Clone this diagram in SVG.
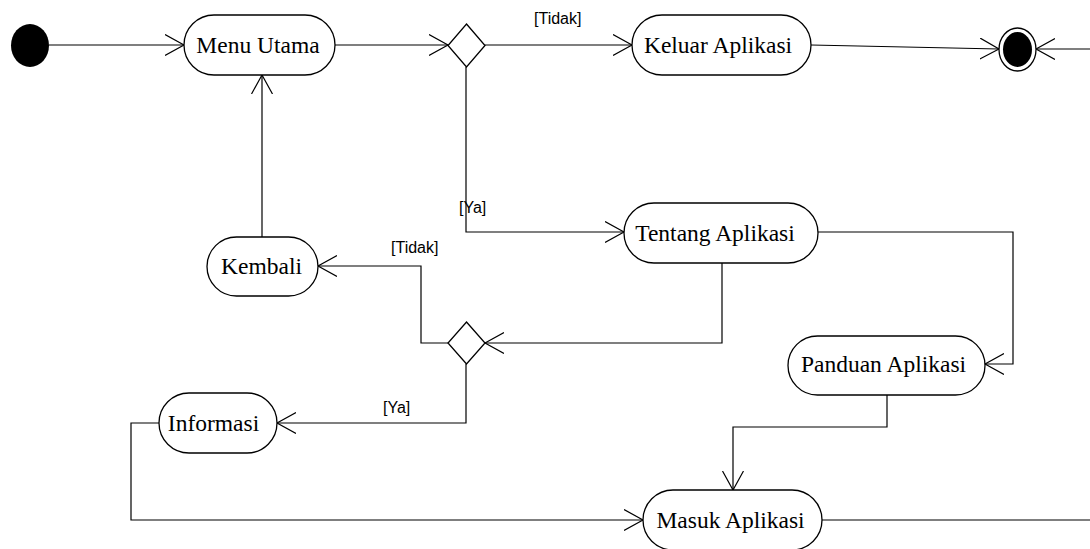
<svg xmlns="http://www.w3.org/2000/svg" width="1090" height="549" viewBox="0 0 1090 549">
<defs>
<style>
.node{fill:#fff;stroke:#000;stroke-width:1.3}
.lbl{font-family:"Liberation Serif","Times New Roman",serif;font-size:23.5px;fill:#000;text-anchor:middle}
.grd{font-family:"Liberation Sans",Arial,sans-serif;font-size:16px;fill:#000}
.edge{fill:none;stroke:#000;stroke-width:1.2}
</style>
<marker id="arr" markerUnits="userSpaceOnUse" markerWidth="22" markerHeight="24" refX="19" refY="11" orient="auto">
<path d="M0,0.5 L19,11 L0,21.5" fill="none" stroke="#000" stroke-width="1.2"/>
</marker>
</defs>
<rect width="1090" height="549" fill="#fff"/>
<g id="connectors">
<line class="edge" x1="49" y1="45" x2="184" y2="45" marker-end="url(#arr)"/>
<line class="edge" x1="335" y1="45" x2="448" y2="45" marker-end="url(#arr)"/>
<line class="edge" x1="485" y1="45" x2="632" y2="45" marker-end="url(#arr)"/>
<line class="edge" x1="811" y1="45" x2="999" y2="49" marker-end="url(#arr)"/>
<line class="edge" x1="1090" y1="49" x2="1036" y2="49" marker-end="url(#arr)"/>
<polyline class="edge" points="466,67 466,232 624,232" marker-end="url(#arr)"/>
<polyline class="edge" points="818,232 1013,232 1013,364 985,364" marker-end="url(#arr)"/>
<polyline class="edge" points="722,263 722,343 485,343" marker-end="url(#arr)"/>
<polyline class="edge" points="448,343 421,343 421,266 318,266" marker-end="url(#arr)"/>
<line class="edge" x1="262" y1="237" x2="262" y2="75" marker-end="url(#arr)"/>
<polyline class="edge" points="466,364 466,423 277,423" marker-end="url(#arr)"/>
<polyline class="edge" points="159,423 131,423 131,520 643,520" marker-end="url(#arr)"/>
<polyline class="edge" points="887,395 887,427 733,427 733,490" marker-end="url(#arr)"/>
<line class="edge" x1="822" y1="520" x2="1090" y2="520"/>
<text class="grd" x="534" y="24">[Tidak]</text>
<text class="grd" x="459" y="213">[Ya]</text>
<text class="grd" x="391" y="253">[Tidak]</text>
<text class="grd" x="383" y="413">[Ya]</text>
</g>
<g id="start"><ellipse cx="30" cy="45.5" rx="19" ry="21.5" fill="#000"/></g>
<g id="menu-utama"><rect class="node" x="184" y="15" width="151" height="60" rx="30" ry="30"/><text class="lbl" x="258" y="53">Menu Utama</text></g>
<g id="decision1"><polygon class="node" points="466.5,24 485,45.5 466.5,67 448,45.5"/></g>
<g id="keluar-aplikasi"><rect class="node" x="632" y="15" width="179" height="60" rx="30" ry="30"/><text class="lbl" x="718" y="53">Keluar Aplikasi</text></g>
<g id="end"><ellipse cx="1017.5" cy="49.5" rx="18.5" ry="21.5" fill="#fff" stroke="#000" stroke-width="1.3"/><ellipse cx="1017.5" cy="49.5" rx="14.5" ry="17.5" fill="#000"/></g>
<g id="tentang-aplikasi"><rect class="node" x="624" y="203" width="194" height="60" rx="30" ry="30"/><text class="lbl" x="715" y="241">Tentang Aplikasi</text></g>
<g id="kembali"><rect class="node" x="207" y="237" width="111" height="59" rx="29.5" ry="29.5"/><text class="lbl" x="261.5" y="274">Kembali</text></g>
<g id="decision2"><polygon class="node" points="466.5,322 485,343 466.5,364 448,343"/></g>
<g id="panduan-aplikasi"><rect class="node" x="788" y="336" width="197" height="59" rx="29.5" ry="29.5"/><text class="lbl" x="883.5" y="372">Panduan Aplikasi</text></g>
<g id="informasi"><rect class="node" x="159" y="393" width="118" height="60" rx="30" ry="30"/><text class="lbl" x="213.5" y="431">Informasi</text></g>
<g id="masuk-aplikasi"><rect class="node" x="643" y="490" width="179" height="60" rx="30" ry="30"/><text class="lbl" x="730.5" y="528">Masuk Aplikasi</text></g>
</svg>
